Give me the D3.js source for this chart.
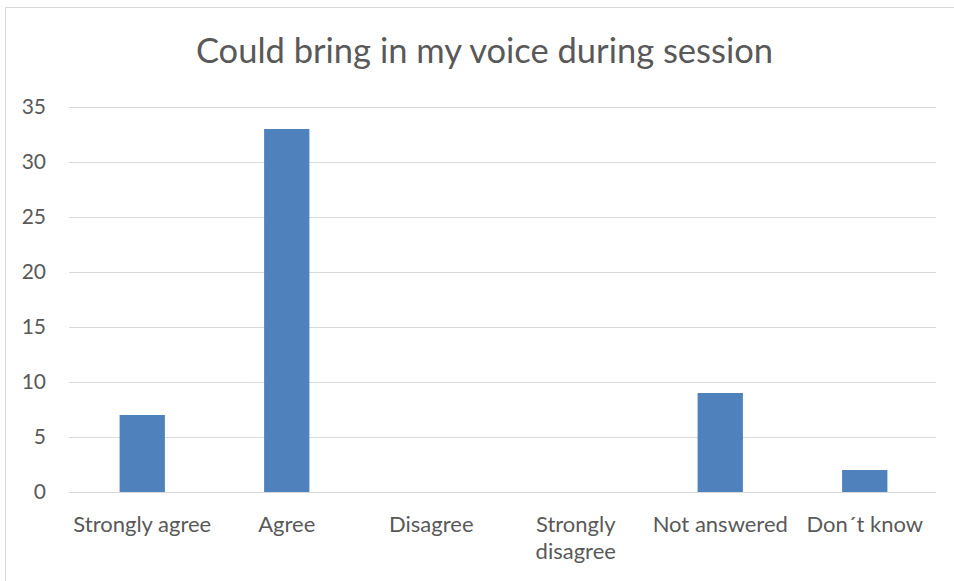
<!DOCTYPE html>
<html>
<head>
<meta charset="utf-8">
<script src="https://cdn.jsdelivr.net/npm/d3@7"></script>
<style>
  html, body { margin: 0; padding: 0; background: #fff; }
  svg { display: block; }
  text { font-family: Lato, "Open Sans", sans-serif; fill: #595959; }
</style>
</head>
<body>
<svg id="chart" width="954" height="581"></svg>
<script>
// Survey responses
const titleText = "Could bring in my voice during session";
const categories = ["Strongly agree", "Agree", "Disagree", "Strongly disagree", "Not answered", "Don\u00b4t know"];
const counts = [7, 33, 0, 0, 9, 2];
const yTicks = [0, 5, 10, 15, 20, 25, 30, 35];

const W = 954, H = 581;
const margin = { left: 69, right: 18, top: 107, bottom: 89 };
const svg = d3.select("#chart");

// Chart frame
svg.append("rect")
  .attr("x", 5.5).attr("y", 7.5)
  .attr("width", W + 10).attr("height", H + 10)
  .attr("fill", "none").attr("stroke", "#d9d9d9").attr("stroke-width", 1);

const x = d3.scaleBand()
  .domain(categories)
  .range([margin.left, W - margin.right])
  .paddingInner(0).paddingOuter(0);

const y = d3.scaleLinear()
  .domain([0, 35])
  .range([H - margin.bottom, margin.top]);

// Title
svg.append("text")
  .attr("x", 484.5)
  .attr("y", 63)
  .attr("text-anchor", "middle")
  .style("font-size", "34.5px")
  .text(titleText);

// Horizontal gridlines
svg.append("g")
  .selectAll("line")
  .data(yTicks)
  .join("line")
  .attr("x1", margin.left).attr("x2", W - margin.right)
  .attr("y1", d => Math.round(y(d)) + 0.5).attr("y2", d => Math.round(y(d)) + 0.5)
  .attr("stroke", "#d9d9d9").attr("stroke-width", 1);

// Y axis labels
const yAxis = d3.axisLeft(y).tickValues(yTicks).tickSize(0).tickPadding(0);
const gy = svg.append("g")
  .attr("transform", `translate(${margin.left - 23},0)`)
  .call(yAxis);
gy.select(".domain").remove();
gy.selectAll("text")
  .style("font-size", "21px")
  .style("font-family", "Lato, sans-serif")
  .attr("fill", "#595959");

// Bars
const gap = 2.19; // gap width relative to bar width
const barW = x.bandwidth() / (1 + gap);
svg.append("g")
  .selectAll("rect")
  .data(categories.map((c, i) => ({ c, v: counts[i] })))
  .join("rect")
  .attr("x", d => x(d.c) + (x.bandwidth() - barW) / 2 + 1)
  .attr("width", barW)
  .attr("y", d => y(d.v))
  .attr("height", d => y(0) - y(d.v))
  .attr("fill", "#4f81bd");

// Category labels, wrapped to the band width
const xAxis = d3.axisBottom(x).tickSize(0).tickPadding(0);
const gx = svg.append("g")
  .attr("transform", `translate(1,${H - margin.bottom + 40})`)
  .call(xAxis);
gx.select(".domain").remove();
gx.selectAll("text")
  .style("font-size", "22px")
  .style("font-family", "Lato, sans-serif")
  .attr("fill", "#595959")
  .attr("dy", 0)
  .each(function (d) {
    const t = d3.select(this);
    t.text(d);
    if (this.getComputedTextLength() > x.bandwidth() - 2) {
      const words = d.split(" ");
      t.text(null);
      words.forEach((w, i) => {
        t.append("tspan").attr("x", 0).attr("dy", i === 0 ? 0 : 27).text(w);
      });
    }
  });
</script>
</body>
</html>
